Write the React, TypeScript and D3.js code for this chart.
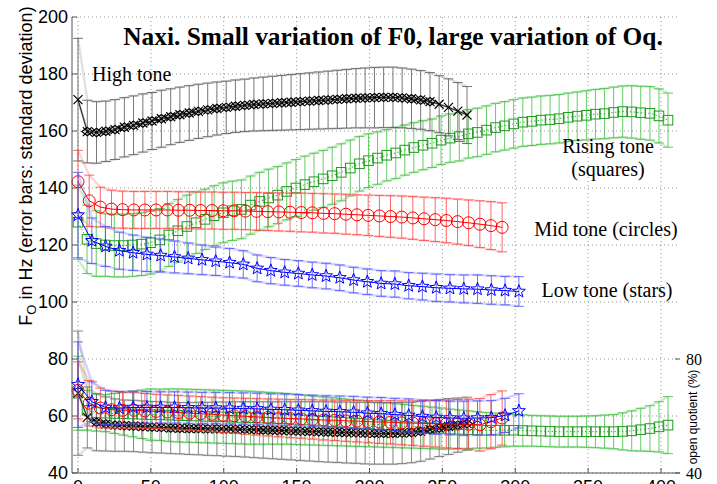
import React from 'react';
import * as d3 from 'd3';

const W = 717;
const H = 484;
const xTicks = [0, 50, 100, 150, 200, 250, 300, 350, 400];
const yTicks = [40, 60, 80, 100, 120, 140, 160, 180, 200];
const rightTicks = [40, 80];

const titleText = 'Naxi. Small variation of F0, large variation of Oq.';

// High tone (black, diamonds / crosses)
const highTime = [0, 6.4, 12.7, 19.1, 25.4, 31.8, 38.1, 44.5, 50.8, 57.2,
  63.6, 69.9, 76.3, 82.6, 89, 95.3, 101.7, 108, 114.4, 120.7,
  127.1, 133.5, 139.8, 146.2, 152.5, 158.9, 165.2, 171.6, 177.9, 184.3,
  190.7, 197, 203.4, 209.7, 216.1, 222.4, 228.8, 235.1, 241.5, 247.8,
  254.2, 260.6, 266.9];
const highF0 = [171, 159.8, 159.5, 159.9, 160.5, 161.3, 162, 162.8, 163.5, 164.3,
  165, 165.7, 166.3, 166.9, 167.4, 167.9, 168.3, 168.7, 169, 169.3,
  169.5, 169.7, 169.9, 170.1, 170.3, 170.5, 170.7, 170.9, 171.1, 171.3,
  171.5, 171.6, 171.7, 171.8, 171.8, 171.6, 171.3, 170.9, 170.3, 169.4,
  168.3, 167, 165.6];
const highF0Sd = [21.5, 11, 10.8, 10.6, 10.5, 10.4, 10.3, 10.2, 10, 10,
  9.8, 9.7, 9.6, 9.5, 9.4, 9.3, 9.2, 9.2, 9.2, 9.3,
  9.4, 9.5, 9.6, 9.7, 9.8, 9.9, 10, 10.1, 10.2, 10.3,
  10.4, 10.5, 10.6, 10.6, 10.6, 10.5, 10.4, 10.3, 10.2, 10,
  10, 10, 10];
const highOq = [68, 59.5, 57.8, 57.2, 56.8, 56.6, 56.5, 56.3, 56.1, 56,
  55.8, 55.7, 55.6, 55.6, 55.5, 55.5, 55.4, 55.4, 55.3, 55.2,
  55.1, 55, 54.9, 54.8, 54.7, 54.6, 54.5, 54.4, 54.3, 54.2,
  54.1, 54, 53.9, 53.9, 53.9, 54, 54.2, 54.6, 55.2, 55.8,
  56.3, 56.8, 57.3];
const highOqSd = [21.8, 10.7, 10, 9.5, 9.2, 9, 9, 9, 9, 9,
  9, 9, 9.1, 9.2, 9.3, 9.4, 9.5, 9.6, 9.7, 9.8,
  9.9, 10, 10.1, 10.2, 10.3, 10.4, 10.5, 10.6, 10.6, 10.7,
  10.7, 10.8, 10.8, 10.8, 10.8, 10.7, 10.6, 10.5, 10.3, 10,
  9.8, 9.5, 9.3];

// Mid tone (red circles)
const midTime = [0, 7.7, 15.3, 23, 30.6, 38.3, 45.9, 53.6, 61.3, 68.9,
  76.6, 84.2, 91.9, 99.6, 107.2, 114.9, 122.5, 130.2, 137.8, 145.5,
  153.2, 160.8, 168.5, 176.1, 183.8, 191.4, 199.1, 206.8, 214.4, 222.1,
  229.7, 237.4, 245.1, 252.7, 260.4, 268, 275.7, 283.3, 291];
const midF0 = [142.2, 135.5, 133.3, 132.6, 132.4, 132.3, 132.3, 132.3, 132.3, 132.2,
  132.2, 132.1, 132.1, 132, 132, 131.9, 131.8, 131.7, 131.6, 131.5,
  131.4, 131.3, 131.1, 131, 130.8, 130.6, 130.4, 130.2, 130, 129.8,
  129.5, 129.2, 128.9, 128.6, 128.2, 127.8, 127.3, 126.8, 126.2];
const midF0Sd = [11, 9, 7, 6.6, 6.5, 6.5, 6.5, 6.5, 6.5, 6.5,
  6.5, 6.5, 6.5, 6.5, 6.5, 6.5, 6.6, 6.6, 6.7, 6.7,
  6.8, 6.8, 6.9, 6.9, 7, 7, 7.1, 7.2, 7.3, 7.4,
  7.5, 7.6, 7.7, 7.8, 7.9, 8, 8.2, 8.4, 8.6];
const midOq = [69, 64.5, 62.8, 62.2, 62, 62, 61.8, 61.6, 61.4, 61.2,
  61, 60.8, 60.6, 60.3, 60.1, 59.9, 59.7, 59.5, 59.3, 59.1,
  59, 58.8, 58.6, 58.5, 58.3, 58.2, 58, 57.9, 57.8, 57.6,
  57.5, 57.4, 57.3, 57.2, 57.2, 57.1, 56.9, 58, 59.3];
const midOqSd = [10, 8, 7, 6.5, 6.3, 6.2, 6.1, 6, 6, 6,
  6, 6, 6, 6.1, 6.2, 6.3, 6.4, 6.5, 6.6, 6.7,
  6.8, 6.9, 7, 7.1, 7.2, 7.3, 7.4, 7.5, 7.6, 7.7,
  7.8, 8, 8.2, 8.4, 8.6, 8.8, 9.2, 9.5, 9.5];

// Low tone (blue stars)
const lowTime = [0, 9.5, 18.9, 28.4, 37.8, 47.3, 56.7, 66.2, 75.6, 85.1,
  94.5, 104, 113.4, 122.9, 132.3, 141.8, 151.2, 160.7, 170.2, 179.6,
  189.1, 198.5, 208, 217.4, 226.9, 236.3, 245.8, 255.2, 264.7, 274.1,
  283.6, 293, 302.5];
const lowF0 = [130.5, 121.5, 119.5, 118, 117.3, 116.7, 116.3, 115.8, 115.3, 114.8,
  114.3, 113.8, 113.2, 111.8, 111, 110.4, 110, 109.5, 109.1, 108.5,
  107.7, 107.1, 106.5, 106.3, 105.7, 105.4, 105, 104.8, 104.6, 104.5,
  104.2, 104, 103.7];
const lowF0Sd = [15, 8, 7, 6.5, 6.2, 6, 5.8, 5.6, 5.4, 5.2,
  5, 5, 4.8, 4.7, 4.6, 4.5, 4.5, 4.5, 4.5, 4.5,
  4.5, 4.5, 4.5, 4.6, 4.6, 4.7, 4.8, 4.8, 4.9, 5,
  5, 5, 5.2];
const lowOq = [71, 65, 63, 62.8, 63, 63, 63, 63, 62.9, 62.8,
  62.8, 62.7, 62.6, 62.5, 62.3, 62.2, 62, 61.8, 61.6, 61.5,
  61.3, 61, 60.8, 60.5, 60.2, 59.8, 59.5, 59.3, 59.2, 59.3,
  59.4, 60.2, 61.8];
const lowOqSd = [15, 7, 6, 5.8, 5.7, 5.6, 5.5, 5.5, 5.5, 5.5,
  5.5, 5.5, 5.5, 5.5, 5.5, 5.5, 5.5, 5.5, 5.5, 5.5,
  5.6, 5.6, 5.7, 5.7, 5.8, 5.8, 5.9, 5.9, 6, 6,
  6, 6, 6];

// Rising tone (green squares)
const riseTime = [0, 6.2, 12.5, 18.7, 24.9, 31.1, 37.4, 43.6, 49.8, 56.1,
  62.3, 68.5, 74.7, 81, 87.2, 93.4, 99.6, 105.9, 112.1, 118.3,
  124.6, 130.8, 137, 143.2, 149.5, 155.7, 161.9, 168.2, 174.4, 180.6,
  186.8, 193.1, 199.3, 205.5, 211.8, 218, 224.2, 230.4, 236.7, 242.9,
  249.1, 255.3, 261.6, 267.8, 274, 280.3, 286.5, 292.7, 298.9, 305.2,
  311.4, 317.6, 323.9, 330.1, 336.3, 342.5, 348.8, 355, 361.2, 367.5,
  373.7, 379.9, 386.1, 392.4, 398.6, 404.8];
const riseF0 = [128, 122, 120.5, 120, 119.8, 119.8, 120, 120.3, 120.8, 121.8,
  123.5, 125, 126.5, 127.8, 129, 130.3, 131.3, 132, 132.5, 134,
  135.3, 136.5, 137.5, 138.8, 140, 141.2, 142.2, 143.2, 144.3, 145.5,
  147, 148.5, 149.6, 150.5, 151.5, 152.3, 153.3, 154.2, 155, 155.7,
  156.8, 157.5, 158, 159, 159.5, 160.3, 161.2, 161.8, 162.5, 163.1,
  163.4, 163.8, 164, 164.3, 164.8, 165.2, 165.5, 165.9, 166.1, 166.5,
  166.8, 166.7, 166.4, 166.2, 165.3, 163.8];
const riseF0Sd = [13, 12, 11.5, 11, 11, 11, 11, 11, 11, 11,
  11, 11, 11, 10.8, 10.6, 10.5, 10.5, 10.4, 10.3, 10.2,
  10.2, 10.1, 10, 10, 10, 10, 10, 10, 10, 10,
  9.8, 9.6, 9.4, 9.2, 9, 9, 8.8, 8.7, 8.6, 8.5,
  8.5, 8.5, 8.5, 8.5, 8.5, 8.5, 8.5, 8.5, 8.5, 8.5,
  8.5, 8.5, 8.5, 8.5, 8.5, 8.5, 8.6, 8.7, 8.8, 8.9,
  9, 9.2, 9.3, 9.4, 9.5, 9.5];
const riseOq = [68, 62, 61.2, 61, 60.9, 60.8, 60.7, 60.6, 60.5, 60.4,
  60.3, 60.2, 60.1, 60, 59.9, 59.8, 59.7, 59.6, 59.5, 59.4,
  59.3, 59.2, 59.1, 59, 58.8, 58.6, 58.4, 58.2, 58, 57.8,
  57.6, 57.4, 57.2, 57, 56.8, 56.6, 56.4, 56.2, 56, 55.8,
  55.6, 55.4, 55.3, 55.2, 55.1, 55, 55, 55, 55, 54.9,
  54.8, 54.7, 54.6, 54.5, 54.5, 54.5, 54.5, 54.5, 54.5, 54.5,
  54.6, 54.8, 55.2, 55.6, 56.2, 56.8];
const riseOqSd = [13, 7, 6.5, 6.5, 7, 7.5, 8, 8.5, 9, 9,
  9.2, 9.3, 9.3, 9.3, 9.3, 9.3, 9.3, 9.3, 9.3, 9.3,
  9.2, 9.1, 9, 8.9, 8.8, 8.7, 8.6, 8.5, 8.4, 8.3,
  8.2, 8.1, 8, 7.9, 7.8, 7.7, 7.6, 7.5, 7.4, 7.3,
  7.2, 7, 6.8, 6.6, 6.4, 6.2, 6, 5.8, 5.6, 5.5,
  5.4, 5.4, 5.4, 5.4, 5.4, 5.4, 5.5, 5.6, 5.8, 6,
  6.5, 7, 7.5, 8, 8.8, 10];

const SANS = 'Liberation Sans, Arial, Helvetica, sans-serif';
const SERIF = 'Liberation Serif, Times New Roman, serif';

type Series = {
  key: string;
  t: number[];
  v: number[];
  sd: number[];
  marker: 'cross' | 'circle' | 'star' | 'square';
  color: string;
  bar: string;
  env: string;
  line: string;
  lineWidth: number;
  dash?: string;
  diamondFrom?: number;
  diamondTo?: number;
};

function starPath(r: number, r2: number) {
  const pts: string[] = [];
  for (let k = 0; k < 10; k++) {
    const a = -Math.PI / 2 + (k * Math.PI) / 5;
    const rr = k % 2 === 0 ? r : r2;
    pts.push(`${(rr * Math.cos(a)).toFixed(2)},${(rr * Math.sin(a)).toFixed(2)}`);
  }
  return 'M' + pts.join('L') + 'Z';
}
const STAR = starPath(6.8, 2.9);

export default function App() {
  const x = d3.scaleLinear().domain([0, 400]).range([78, 661]);
  const y = d3.scaleLinear().domain([40, 200]).range([473, 17]);
  const left = 72;
  const right = 680;
  const top = y(200);
  const bottom = y(40);

  const series: Series[] = [
    { key: 'riseF0', t: riseTime, v: riseF0, sd: riseF0Sd, marker: 'square', color: '#1f9a1f', bar: '#33bb33', env: '#55c855', line: '#1f9a1f', lineWidth: 1, dash: '1.2,2.5' },
    { key: 'riseOq', t: riseTime, v: riseOq, sd: riseOqSd, marker: 'square', color: '#1f9a1f', bar: '#33bb33', env: '#55c855', line: '#1f9a1f', lineWidth: 1, dash: '1.2,2.5' },
    { key: 'highF0', t: highTime, v: highF0, sd: highF0Sd, marker: 'cross', color: '#000', bar: '#4a4a4a', env: '#9a9a9a', line: '#000', lineWidth: 0.8, diamondFrom: 1, diamondTo: 38 },
    { key: 'highOq', t: highTime, v: highOq, sd: highOqSd, marker: 'cross', color: '#000', bar: '#606060', env: '#a0a0a0', line: '#000', lineWidth: 0.8, diamondFrom: 2, diamondTo: 42 },
    { key: 'midF0', t: midTime, v: midF0, sd: midF0Sd, marker: 'circle', color: '#ff0000', bar: '#ff3535', env: '#ff7070', line: '#ff0000', lineWidth: 1 },
    { key: 'midOq', t: midTime, v: midOq, sd: midOqSd, marker: 'circle', color: '#ff0000', bar: '#ff3535', env: '#ff7070', line: '#ff0000', lineWidth: 1 },
    { key: 'lowF0', t: lowTime, v: lowF0, sd: lowF0Sd, marker: 'star', color: '#0000ff', bar: '#4040ff', env: '#7070ff', line: '#0000ff', lineWidth: 1 },
    { key: 'lowOq', t: lowTime, v: lowOq, sd: lowOqSd, marker: 'star', color: '#0000ff', bar: '#4040ff', env: '#7070ff', line: '#0000ff', lineWidth: 1 },
  ];

  const lineGen = d3.line<[number, number]>().x((d) => d[0]).y((d) => d[1]);

  const renderSeries = (s: Series) => {
    const pts: [number, number][] = s.t.map((t, i) => [x(t), y(s.v[i])]);
    const upper: [number, number][] = s.t.map((t, i) => [x(t), y(s.v[i] + s.sd[i])]);
    const lower: [number, number][] = s.t.map((t, i) => [x(t), y(s.v[i] - s.sd[i])]);
    const cap = 5;
    return (
      <g key={s.key}>
        <path d={lineGen(upper) || ''} fill="none" stroke={s.env} strokeWidth={2.4} opacity={0.3} />
        <path d={lineGen(lower) || ''} fill="none" stroke={s.env} strokeWidth={2.4} opacity={0.3} />
        <g stroke={s.bar} strokeWidth={1} opacity={0.75}>
          {pts.map((p, i) => (
            <g key={i}>
              <line x1={p[0]} x2={p[0]} y1={upper[i][1]} y2={lower[i][1]} />
              <line x1={p[0] - cap} x2={p[0] + cap} y1={upper[i][1]} y2={upper[i][1]} />
              <line x1={p[0] - cap} x2={p[0] + cap} y1={lower[i][1]} y2={lower[i][1]} />
            </g>
          ))}
        </g>
        {s.marker === 'cross' && (
          <path d={lineGen(pts) || ''} fill="none" stroke="#8a8a8a" strokeWidth={2.2} opacity={0.6} />
        )}
        <path d={lineGen(pts) || ''} fill="none" stroke={s.line} strokeWidth={s.lineWidth} strokeDasharray={s.dash} />
        <g fill="none" stroke={s.color} strokeWidth={1}>
          {pts.map((p, i) => {
            if (s.marker === 'circle') return <circle key={i} cx={p[0]} cy={p[1]} r={6} />;
            if (s.marker === 'square') return <rect key={i} x={p[0] - 4.8} y={p[1] - 4.8} width={9.6} height={9.6} />;
            if (s.marker === 'star') return <path key={i} d={STAR} transform={`translate(${p[0]},${p[1]})`} />;
            const showDiamond = s.diamondFrom !== undefined && i >= s.diamondFrom && i <= (s.diamondTo as number);
            return (
              <g key={i} transform={`translate(${p[0]},${p[1]})`} strokeWidth={1.2}>
                <path d="M-4.5,-4.5L4.5,4.5M-4.5,4.5L4.5,-4.5" />
                {showDiamond && <path d="M0,-4.2L5.4,0L0,4.2L-5.4,0Z" />}
              </g>
            );
          })}
        </g>
      </g>
    );
  };

  return (
    <svg width={W} height={H} style={{ position: 'absolute', left: 0, top: 0, background: '#fff' }}>
      <rect x={0} y={0} width={W} height={H} fill="#fff" />
      {/* grid */}
      <g stroke="#777" strokeWidth={0.8} strokeDasharray="1,3">
        {yTicks.map((t) => (
          <line key={'gy' + t} x1={left} x2={right} y1={y(t)} y2={y(t)} />
        ))}
        {xTicks.map((t) => (
          <line key={'gx' + t} x1={x(t)} x2={x(t)} y1={top} y2={bottom} />
        ))}
      </g>
      {/* data */}
      {series.map(renderSeries)}
      {/* axes */}
      <g stroke="#555" strokeWidth={1}>
        <line x1={left} x2={left} y1={top} y2={bottom} />
        <line x1={left} x2={right} y1={bottom} y2={bottom} />
        {yTicks.map((t) => (
          <line key={'ty' + t} x1={left} x2={left + 5} y1={y(t)} y2={y(t)} />
        ))}
        {xTicks.map((t) => (
          <line key={'tx' + t} x1={x(t)} x2={x(t)} y1={bottom} y2={bottom - 5} />
        ))}
        {rightTicks.map((t) => (
          <line key={'tr' + t} x1={right - 5} x2={right} y1={y(t)} y2={y(t)} />
        ))}
      </g>
      <g fontFamily={SANS} fontSize={18} fill="#000">
        {yTicks.map((t) => (
          <text key={'ly' + t} x={68} y={y(t)} textAnchor="end" dy="0.35em">{t}</text>
        ))}
        {xTicks.map((t) => (
          <text key={'lx' + t} x={x(t)} y={493} textAnchor="middle">{t}</text>
        ))}
      </g>
      <g fontFamily={SERIF} fontSize={16} fill="#000">
        {rightTicks.map((t) => (
          <text key={'lr' + t} x={686} y={y(t)} dy="0.35em">{t}</text>
        ))}
      </g>
      {/* axis labels */}
      <text transform="translate(31.5,166) rotate(-90)" textAnchor="middle" fontFamily={SANS} fontSize={18} fill="#000">
        <tspan>F</tspan>
        <tspan dy={4} fontSize={13}>O</tspan>
        <tspan dy={-4}> in Hz (error bars: standard deviation)</tspan>
      </text>
      <text transform="translate(697,417) rotate(-90)" textAnchor="middle" fontFamily={SANS} fontSize={12} fill="#000">
        open quotient (%)
      </text>
      {/* title and annotations */}
      <text x={393} y={45} textAnchor="middle" fontFamily={SERIF} fontWeight="bold" fontSize={25.4} fill="#000">
        {titleText}
      </text>
      <g fontFamily={SERIF} fontSize={20} fill="#000">
        <text x={92} y={81}>High tone</text>
        <text x={608} y={153} textAnchor="middle">Rising tone</text>
        <text x={608} y={176} textAnchor="middle">(squares)</text>
        <text x={606} y={236} textAnchor="middle">Mid tone (circles)</text>
        <text x={607} y={297} textAnchor="middle">Low tone (stars)</text>
      </g>
    </svg>
  );
}
